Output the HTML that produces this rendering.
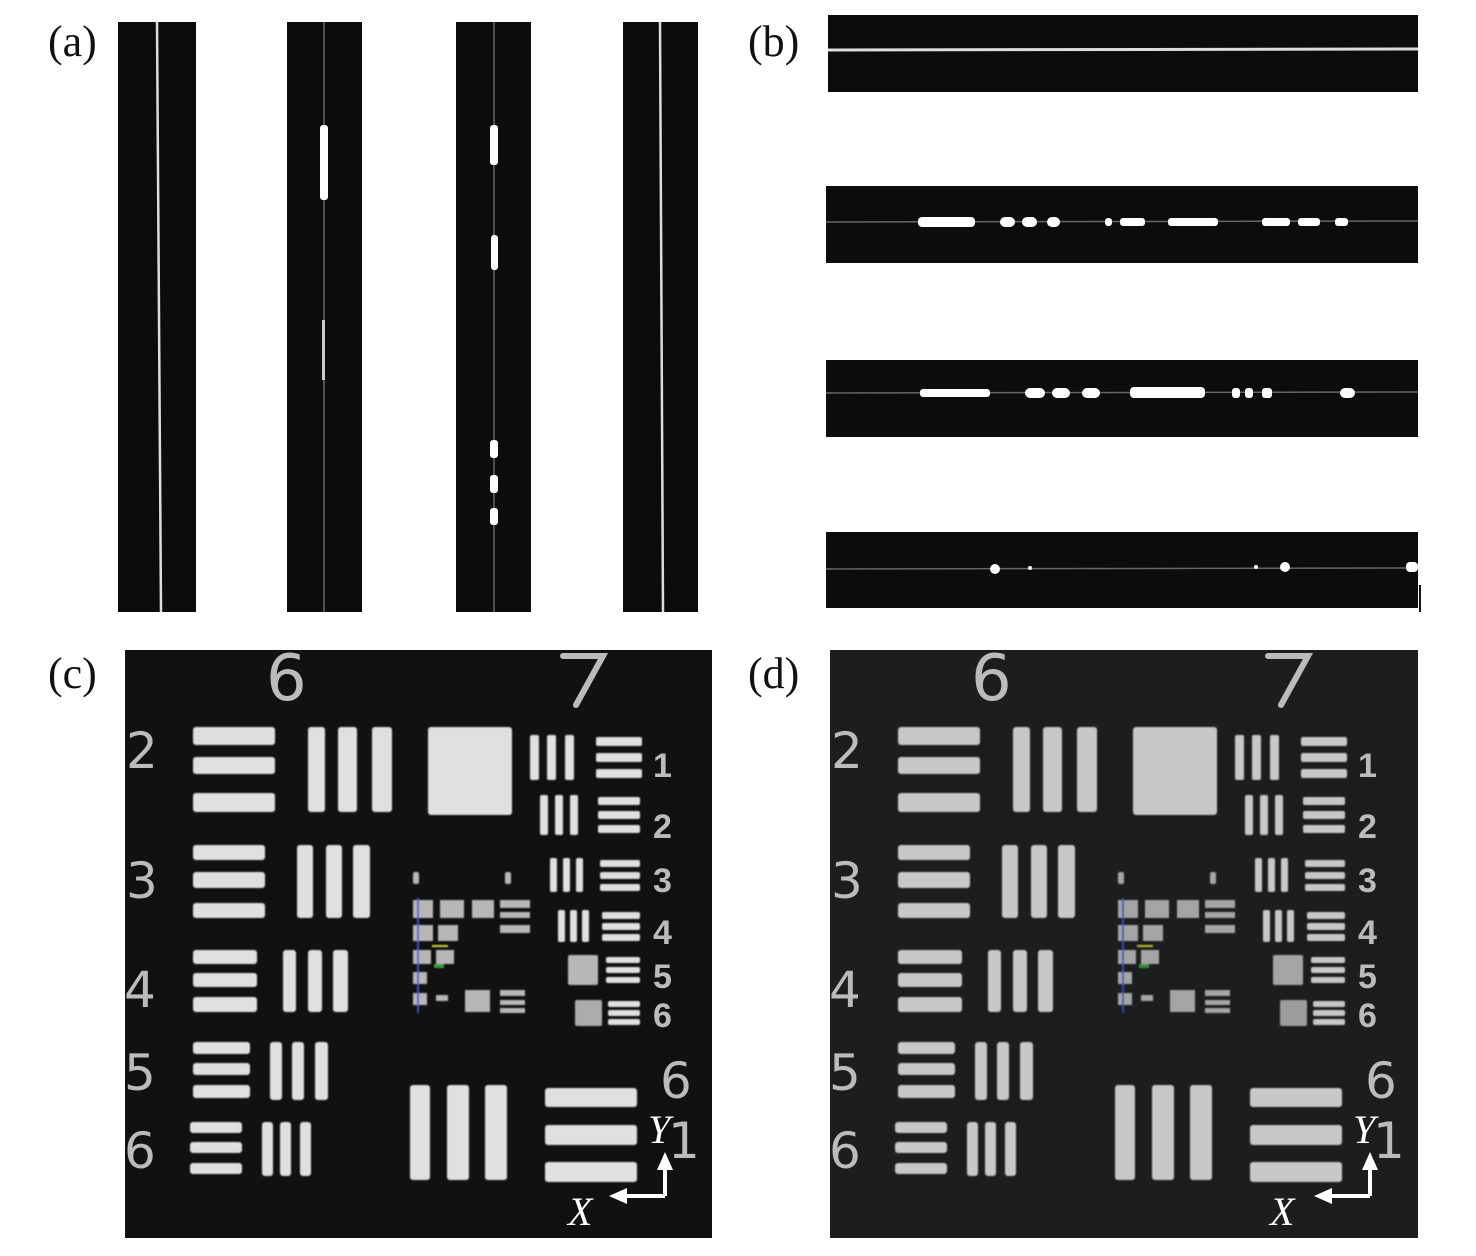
<!DOCTYPE html>
<html><head><meta charset="utf-8"><style>
html,body{margin:0;padding:0;background:#fff;}
svg{display:block;}
.lb{font-family:"Liberation Serif",serif;font-size:44px;fill:#111;}
.n{font-family:"DejaVu Sans","Liberation Sans",sans-serif;fill:#bbb;}
.s{font-family:"Liberation Sans",sans-serif;font-weight:bold;}
.ax{font-family:"Liberation Serif",serif;font-style:italic;font-size:40px;fill:#fff;}
</style></head><body>
<svg width="1476" height="1256" viewBox="0 0 1476 1256" xmlns="http://www.w3.org/2000/svg">
<defs>
<filter id="bl"><feGaussianBlur stdDeviation="0.8"/></filter>
</defs>
<text class="lb" x="48" y="56">(a)</text>
<text class="lb" x="748" y="56">(b)</text>
<text class="lb" x="48" y="688">(c)</text>
<text class="lb" x="748" y="688">(d)</text>

<!-- (a) vertical strips -->
<g>
<rect x="118" y="22" width="78" height="590" fill="#0c0c0c"/>
<rect x="287" y="22" width="75" height="590" fill="#0c0c0c"/>
<rect x="456" y="22" width="75" height="590" fill="#0c0c0c"/>
<rect x="623" y="22" width="75" height="590" fill="#0c0c0c"/>
<path d="M157 22 Q159 300 161 612" stroke="#ddd" stroke-width="2.5" fill="none"/>
<line x1="324" y1="22" x2="324" y2="612" stroke="#666" stroke-width="1.5"/>
<rect x="320" y="125" width="8" height="75" rx="3" fill="#fff"/>
<rect x="322" y="320" width="3" height="60" fill="#ccc"/>
<line x1="494" y1="22" x2="494" y2="612" stroke="#666" stroke-width="1.5"/>
<rect x="490" y="125" width="8" height="40" rx="3" fill="#fff"/>
<rect x="491" y="235" width="7" height="35" rx="3" fill="#fff"/>
<rect x="490" y="440" width="8" height="18" rx="3" fill="#fff"/>
<rect x="490" y="475" width="8" height="18" rx="3" fill="#fff"/>
<rect x="490" y="508" width="8" height="17" rx="3" fill="#fff"/>
<path d="M660 22 Q661 300 663 612" stroke="#ddd" stroke-width="2.5" fill="none"/>
</g>

<!-- (b) horizontal strips -->
<g>
<rect x="828" y="15" width="590" height="77" fill="#0c0c0c"/>
<rect x="826" y="186" width="592" height="77" fill="#0c0c0c"/>
<rect x="826" y="360" width="592" height="77" fill="#0c0c0c"/>
<rect x="826" y="532" width="592" height="76" fill="#0c0c0c"/>
<line x1="828" y1="50" x2="1418" y2="49" stroke="#ddd" stroke-width="3"/>
<line x1="826" y1="222" x2="1418" y2="221" stroke="#666" stroke-width="1.5"/>
<g fill="#fff">
<rect x="918" y="217" width="57" height="10" rx="4"/>
<rect x="1000" y="217" width="15" height="10" rx="5"/>
<rect x="1022" y="217" width="15" height="10" rx="5"/>
<rect x="1047" y="217" width="13" height="10" rx="5"/>
<rect x="1105" y="218" width="7" height="8" rx="3"/>
<rect x="1120" y="218" width="25" height="8" rx="3"/>
<rect x="1168" y="218" width="50" height="8" rx="3"/>
<rect x="1262" y="218" width="28" height="8" rx="3"/>
<rect x="1298" y="218" width="22" height="8" rx="3"/>
<rect x="1335" y="218" width="13" height="8" rx="3"/>
</g>
<line x1="826" y1="393" x2="1418" y2="392" stroke="#666" stroke-width="1.5"/>
<g fill="#fff">
<rect x="920" y="389" width="70" height="8" rx="3"/>
<rect x="1025" y="388" width="20" height="10" rx="5"/>
<rect x="1052" y="388" width="18" height="10" rx="5"/>
<rect x="1082" y="388" width="18" height="10" rx="5"/>
<rect x="1130" y="387" width="75" height="11" rx="4"/>
<rect x="1232" y="388" width="8" height="10" rx="3"/>
<rect x="1245" y="388" width="8" height="10" rx="3"/>
<rect x="1262" y="388" width="10" height="10" rx="3"/>
<rect x="1340" y="388" width="15" height="10" rx="5"/>
</g>
<line x1="826" y1="569" x2="1418" y2="568" stroke="#666" stroke-width="1.5"/>
<g fill="#fff">
<circle cx="995" cy="569" r="5"/>
<circle cx="1030" cy="568" r="2"/>
<circle cx="1256" cy="567" r="2"/>
<circle cx="1285" cy="567" r="5"/>
<rect x="1406" y="562" width="12" height="10" rx="4"/>
</g>
<line x1="1420" y1="585" x2="1420" y2="612" stroke="#111" stroke-width="2"/>
</g>

<!-- panels -->
<rect x="125" y="650" width="587" height="588" fill="#111"/>
<rect x="830" y="650" width="588" height="588" fill="#1c1d1f"/>

<g id="tg" fill="#e0e0e0" filter="url(#bl)">
<rect x="193" y="727" width="82" height="18" rx="3"/><rect x="193" y="757" width="82" height="17" rx="3"/><rect x="193" y="793" width="82" height="19" rx="3"/>
<rect x="308" y="727" width="17" height="85" rx="3"/><rect x="338" y="727" width="19" height="85" rx="3"/><rect x="372" y="727" width="20" height="85" rx="3"/>
<rect x="428" y="727" width="84" height="88" rx="3"/>
<rect x="193" y="845" width="72" height="15" rx="3"/><rect x="193" y="872" width="72" height="16" rx="3"/><rect x="193" y="903" width="72" height="15" rx="3"/>
<rect x="297" y="845" width="16" height="73" rx="3"/><rect x="326" y="845" width="16" height="73" rx="3"/><rect x="353" y="845" width="17" height="73" rx="3"/>
<rect x="193" y="950" width="64" height="14" rx="3"/><rect x="193" y="973" width="64" height="14" rx="3"/><rect x="193" y="997" width="64" height="15" rx="3"/>
<rect x="283" y="950" width="13" height="62" rx="3"/><rect x="308" y="950" width="14" height="62" rx="3"/><rect x="333" y="950" width="15" height="62" rx="3"/>
<rect x="193" y="1042" width="57" height="12" rx="3"/><rect x="193" y="1063" width="57" height="12" rx="3"/><rect x="193" y="1085" width="57" height="13" rx="3"/>
<rect x="270" y="1042" width="12" height="58" rx="3"/><rect x="292" y="1042" width="12" height="58" rx="3"/><rect x="315" y="1042" width="13" height="58" rx="3"/>
<rect x="190" y="1122" width="52" height="11" rx="3"/><rect x="190" y="1142" width="52" height="11" rx="3"/><rect x="190" y="1163" width="52" height="11" rx="3"/>
<rect x="262" y="1122" width="11" height="54" rx="3"/><rect x="280" y="1122" width="11" height="54" rx="3"/><rect x="300" y="1122" width="11" height="54" rx="3"/>
<rect x="410" y="1085" width="20" height="95" rx="3"/><rect x="447" y="1085" width="22" height="95" rx="3"/><rect x="485" y="1085" width="22" height="95" rx="3"/>
<rect x="545" y="1088" width="92" height="19" rx="3"/><rect x="545" y="1125" width="92" height="20" rx="3"/><rect x="545" y="1162" width="92" height="20" rx="3"/>
<rect x="530" y="735" width="9" height="45" rx="2"/><rect x="547" y="735" width="9" height="45" rx="2"/><rect x="565" y="735" width="9" height="45" rx="2"/>
<rect x="596" y="737" width="46" height="9" rx="2"/><rect x="596" y="753" width="46" height="9" rx="2"/><rect x="596" y="769" width="46" height="9" rx="2"/>
<rect x="540" y="795" width="8" height="40" rx="2"/><rect x="555" y="795" width="8" height="40" rx="2"/><rect x="570" y="795" width="8" height="40" rx="2"/>
<rect x="598" y="797" width="42" height="8" rx="2"/><rect x="598" y="811" width="42" height="8" rx="2"/><rect x="598" y="825" width="42" height="8" rx="2"/>
<rect x="550" y="858" width="7" height="34" rx="2"/><rect x="563" y="858" width="7" height="34" rx="2"/><rect x="576" y="858" width="7" height="34" rx="2"/>
<rect x="600" y="860" width="40" height="7" rx="2"/><rect x="600" y="872" width="40" height="7" rx="2"/><rect x="600" y="884" width="40" height="7" rx="2"/>
<rect x="558" y="910" width="7" height="32" rx="2"/><rect x="570" y="910" width="7" height="32" rx="2"/><rect x="582" y="910" width="7" height="32" rx="2"/>
<rect x="602" y="912" width="38" height="7" rx="2"/><rect x="602" y="923" width="38" height="7" rx="2"/><rect x="602" y="934" width="38" height="7" rx="2"/>
<rect x="568" y="955" width="30" height="30" rx="2" opacity="0.8"/>
<rect x="606" y="957" width="34" height="6" rx="2"/><rect x="606" y="967" width="34" height="6" rx="2"/><rect x="606" y="977" width="34" height="6" rx="2"/>
<rect x="575" y="1000" width="27" height="26" rx="2" opacity="0.75"/>
<rect x="608" y="1001" width="32" height="6" rx="2"/><rect x="608" y="1010" width="32" height="6" rx="2"/><rect x="608" y="1019" width="32" height="6" rx="2"/>
<g opacity="0.8">
<rect x="413" y="872" width="6" height="12" rx="2"/><rect x="505" y="872" width="6" height="12" rx="2"/>
<rect x="413" y="900" width="20" height="18"/><rect x="440" y="900" width="24" height="18"/><rect x="472" y="900" width="22" height="18"/>
<rect x="500" y="900" width="30" height="8"/><rect x="500" y="912" width="30" height="6"/><rect x="500" y="925" width="30" height="8"/>
<rect x="413" y="925" width="20" height="16"/><rect x="438" y="925" width="20" height="16"/>
<rect x="413" y="950" width="18" height="14"/><rect x="436" y="950" width="18" height="14"/>
<rect x="413" y="972" width="14" height="12"/><rect x="413" y="993" width="14" height="12"/><rect x="436" y="995" width="12" height="6"/>
<rect x="465" y="990" width="25" height="22"/>
<rect x="500" y="990" width="25" height="6"/><rect x="500" y="1000" width="25" height="5"/><rect x="500" y="1008" width="25" height="5"/>
</g>
<line x1="418" y1="898" x2="418" y2="1013" stroke="#3b4fd0" stroke-width="2"/>
<line x1="432" y1="946" x2="448" y2="946" stroke="#d8d830" stroke-width="2"/>
<rect x="434" y="964" width="10" height="4" fill="#40c040" opacity="0.8"/>
</g>

<use href="#tg" transform="translate(705,0)" opacity="0.88"/>

<g class="n">
<text x="266" y="700" font-size="64">6</text>
<text x="126" y="768" font-size="50">2</text>
<text x="126" y="898" font-size="50">3</text>
<text x="124" y="1007" font-size="50">4</text>
<text x="124" y="1090" font-size="50">5</text>
<text x="124" y="1168" font-size="50">6</text>
<text x="660" y="1098" font-size="50">6</text>
<text x="668" y="1158" font-size="50">1</text>
</g>
<g class="n s" font-size="34">
<text x="653" y="777">1</text>
<text x="653" y="838">2</text>
<text x="653" y="892">3</text>
<text x="653" y="944">4</text>
<text x="653" y="988">5</text>
<text x="653" y="1027">6</text>
</g>
<g class="n">
<text x="971" y="700" font-size="64">6</text>
<text x="831" y="768" font-size="50">2</text>
<text x="831" y="898" font-size="50">3</text>
<text x="829" y="1007" font-size="50">4</text>
<text x="829" y="1090" font-size="50">5</text>
<text x="829" y="1168" font-size="50">6</text>
<text x="1365" y="1098" font-size="50">6</text>
<text x="1373" y="1158" font-size="50">1</text>
</g>
<g class="n s" font-size="34">
<text x="1358" y="777">1</text>
<text x="1358" y="838">2</text>
<text x="1358" y="892">3</text>
<text x="1358" y="944">4</text>
<text x="1358" y="988">5</text>
<text x="1358" y="1027">6</text>
</g>
<!-- slanted 7 -->
<g stroke="#bbb" stroke-width="6" fill="none" stroke-linecap="round">
<path d="M563 656 L603 656 L576 705"/>
<path d="M1268 656 L1308 656 L1281 705"/>
</g>

<g stroke="#fff" stroke-width="4" fill="#fff">
<line x1="665" y1="1196" x2="665" y2="1165"/>
<polygon points="657,1170 665,1152 673,1170" stroke="none"/>
<line x1="665" y1="1196" x2="622" y2="1196"/>
<polygon points="627,1188 609,1196 627,1204" stroke="none"/>
<line x1="1370" y1="1196" x2="1370" y2="1165"/>
<polygon points="1362,1170 1370,1152 1378,1170" stroke="none"/>
<line x1="1370" y1="1196" x2="1327" y2="1196"/>
<polygon points="1332,1188 1314,1196 1332,1204" stroke="none"/>
</g>
<text class="ax" x="648" y="1143">Y</text>
<text class="ax" x="568" y="1225">X</text>
<text class="ax" x="1353" y="1143">Y</text>
<text class="ax" x="1270" y="1225">X</text>
</svg>
</body></html>
